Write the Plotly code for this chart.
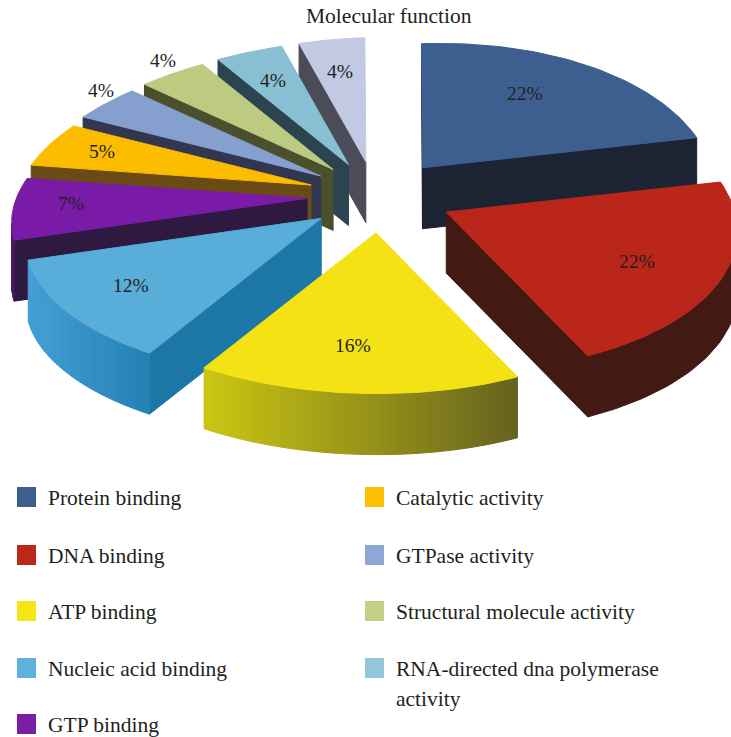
import numpy as np
import plotly.graph_objects as go

# ---- data ----
categories = ["Protein binding", "DNA binding", "ATP binding", "Nucleic acid binding",
              "GTP binding", "Catalytic activity", "GTPase activity",
              "Structural molecule activity", "RNA-directed dna polymerase<br>activity", "Other"]
values = [22, 22, 16, 12, 7, 5, 4, 4, 4, 4]
labels = ["22%", "22%", "16%", "12%", "7%", "5%", "4%", "4%", "4%", "4%"]

# ---- styles ----
top_colors = ["#3c5f90", "#ba261a", "#f4e215", "#59add9", "#7a1ba8",
              "#fcbc00", "#85a0cf", "#bdcb80", "#88bfd2", "#c1c9e3"]
face_colors = ["#1c2433", "#431a13", "#6a6420", "#1c77a6", "#2e1a40",
               "#6a4a15", "#32364f", "#4a4f2c", "#2c4450", "#4c4c58"]
rim_left = ["#1c2433", "#431a13", "#cbc612", "#459fd6", "#4a1d6b",
            "#6a4a15", "#32364f", "#4a4f2c", "#2c4450", "#4c4c58"]
rim_right = ["#1c2433", "#431a13", "#66621f", "#2480b2", "#2e1a40",
             "#6a4a15", "#32364f", "#4a4f2c", "#2c4450", "#4c4c58"]
swatch_colors = ["#3c5f90", "#bd271a", "#f7e617", "#5eb3de", "#7a1fa5",
                 "#ffc000", "#8ea7d6", "#c4d085", "#93c6d8"]

# ---- layout of the projected pie (pixel axes) ----
CX, CY = 380, 197          # pie centre
EX, EY = 73, 36            # explosion distance on screen
A, B, K = 291, 137, 0.12   # ellipse radii and perspective
DEPTH = 61
ROT = -4                   # first slice angle
LABEL_XY = [(525, 93), (637, 261), (353, 345), (131, 285), (71, 203),
            (102, 151), (101, 90), (163, 60), (273, 80), (340, 71)]
FONT = "Liberation Serif"
TEXT = "#231f20"
LEGEND_LEFT = [(17, 46, 497), (17, 46, 555), (17, 46, 611), (17, 46, 668), (17, 46, 724)]
LEGEND_RIGHT = [(365, 394, 497), (365, 394, 555), (365, 394, 611), (365, 394, 668)]


def rim(theta):
    s, c = np.sin(theta), np.cos(theta)
    w = 1 + K * c
    return A * s / w - 1.5 + 7.7 * c + 11 * c * c, -B * c / w + 5 - 3.5 * (c * c + c)


def hexmix(c1, c2, t):
    a = [int(c1[i:i + 2], 16) for i in (1, 3, 5)]
    b = [int(c2[i:i + 2], 16) for i in (1, 3, 5)]
    return "#%02x%02x%02x" % tuple(int(round(p + (q - p) * t)) for p, q in zip(a, b))


def poly(fig, xs, ys, color):
    fig.add_trace(go.Scatter(x=list(xs) + [xs[0]], y=list(ys) + [ys[0]], mode="lines",
                             fill="toself", fillcolor=color,
                             line=dict(color=color, width=1),
                             hoverinfo="skip", showlegend=False))


def below(p, q, r):
    """True when the side wall hanging from edge p-q is on the far side from r."""
    ex, ey = q[0] - p[0], q[1] - p[1]
    return ex * (ex * (r[1] - p[1]) - ey * (r[0] - p[0])) < 0


fig = go.Figure()
edges = np.cumsum([0] + values) / sum(values) * 2 * np.pi + np.radians(ROT)
apex = []
for i in range(len(values)):
    mid = (edges[i] + edges[i + 1]) / 2
    apex.append((CX + EX * np.sin(mid), CY - EY * np.cos(mid)))

for i in sorted(range(len(values)), key=lambda n: apex[n][1]):
    th = np.linspace(edges[i], edges[i + 1], 49)
    rx, ry = rim(th)
    px, py = apex[i]
    ox, oy = px + rx, py + ry
    inner = (ox[24], oy[24])
    # radial cut faces
    for k in (0, -1):
        q = (ox[k], oy[k])
        if below((px, py), q, inner):
            poly(fig, [px, q[0], q[0], px], [py, q[1], q[1] + DEPTH, py + DEPTH], face_colors[i])
    # outer rim: strips carry the shading, plain rims are one shape
    vis = [j for j in range(len(th) - 1)
           if below((ox[j], oy[j]), (ox[j + 1], oy[j + 1]), (px, py))]
    if vis:
        if rim_left[i] == rim_right[i]:
            idx = list(range(vis[0], vis[-1] + 2))
            xs = list(ox[idx]) + list(ox[idx][::-1])
            ys = list(oy[idx]) + list(oy[idx][::-1] + DEPTH)
            poly(fig, xs, ys, rim_left[i])
        else:
            xmin, xmax = ox.min(), ox.max()
            for j in vis:
                a, b = (ox[j], oy[j]), (ox[j + 1], oy[j + 1])
                t = ((a[0] + b[0]) / 2 - xmin) / max(xmax - xmin, 1)
                poly(fig, [a[0], b[0], b[0], a[0]], [a[1], b[1], b[1] + DEPTH, a[1] + DEPTH],
                     hexmix(rim_left[i], rim_right[i], t))
    # top
    poly(fig, [px] + list(ox), [py] + list(oy), top_colors[i])

ann = [dict(x=389, y=16, text="Molecular function", showarrow=False, xanchor="center",
            yanchor="middle", font=dict(family=FONT, size=21.5, color=TEXT))]
for (x, y), t in zip(LABEL_XY, labels):
    ann.append(dict(x=x, y=y, text=t, showarrow=False, xanchor="center", yanchor="middle",
                    font=dict(family=FONT, size=19.5, color=TEXT)))

shapes = []
for n, (sx, tx, y) in enumerate(LEGEND_LEFT + LEGEND_RIGHT):
    shapes.append(dict(type="rect", x0=sx, x1=sx + 19, y0=y - 10, y1=y + 10,
                       fillcolor=swatch_colors[n], line=dict(width=0), layer="above"))
    lines = categories[n].split("<br>")
    for m, line in enumerate(lines):
        ann.append(dict(x=tx, y=y + 1 + m * 30, text=line, showarrow=False, xanchor="left",
                        yanchor="middle", font=dict(family=FONT, size=21.5, color=TEXT)))

fig.update_layout(
    width=731, height=737, autosize=False,
    margin=dict(l=0, r=0, t=0, b=0),
    paper_bgcolor="white", plot_bgcolor="white",
    xaxis=dict(range=[0, 731], visible=False, fixedrange=True),
    yaxis=dict(range=[737, 0], visible=False, fixedrange=True),
    showlegend=False, annotations=ann, shapes=shapes,
)
fig.write_html("out.html", config=dict(displayModeBar=False),
               post_script="document.body.style.margin='0';document.body.style.overflow='hidden';")
